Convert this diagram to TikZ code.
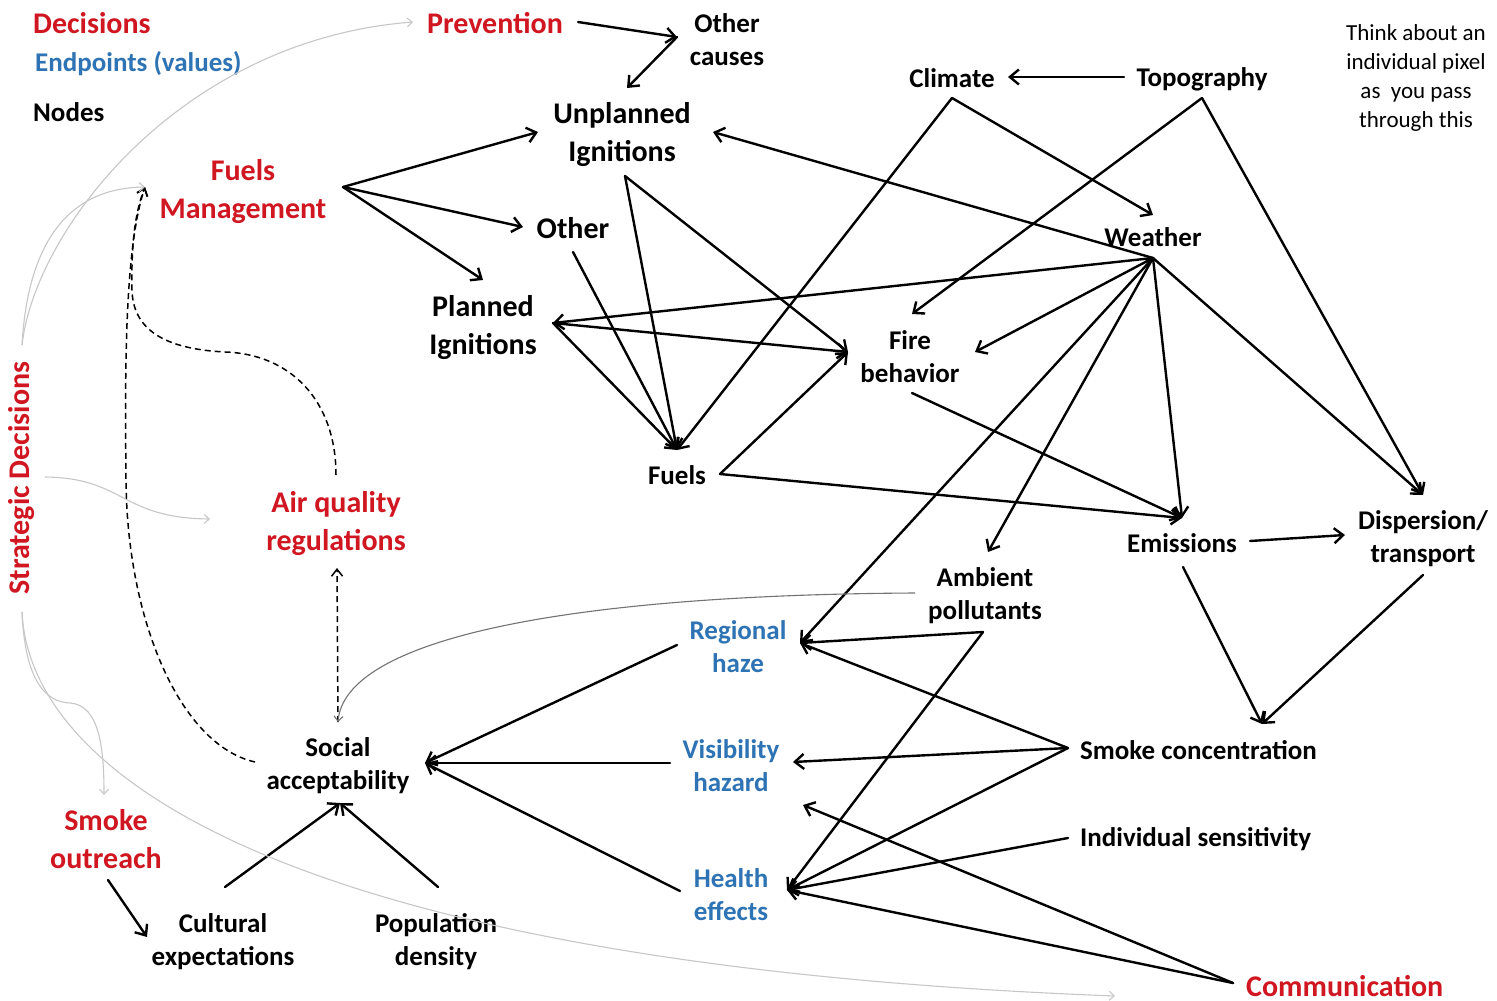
\documentclass[tikz,border=0pt]{standalone}
\usepackage{fontspec}
\setmainfont{Carlito}
\usetikzlibrary{arrows.meta}
\definecolor{decred}{RGB}{208,22,32}
\definecolor{endblue}{RGB}{46,116,181}
\begin{document}
\begin{tikzpicture}[x=1pt,y=-1pt,
  every node/.style={inner sep=0pt, align=center, font=\bfseries\fontsize{27}{33}\selectfont},
  big/.style={font=\bfseries\fontsize{30}{38}\selectfont},
  dec/.style={big, text=decred},
  endp/.style={text=endblue},
  conn/.style={line width=2.4pt, line cap=round, -{Straight Barb[length=9pt,width=15pt]}},
  faintconn/.style={draw=black!22, line width=1.1pt, -{Straight Barb[length=5pt,width=9pt]}},
  darkconn/.style={draw=black!55, line width=1.1pt, -{Straight Barb[length=5pt,width=9pt]}},
  dashconn/.style={line width=1.5pt, dash pattern=on 6pt off 4pt, -{Straight Barb[length=7pt,width=11pt]}}
]
\useasboundingbox (0,0) rectangle (1497,1001);
\fill[white] (0,0) rectangle (1497,1001);

% ---------- legend ----------
\node[dec, anchor=west] (legdec) at (33,23) {Decisions};
\node[endp, anchor=west] (legend) at (35,64) {Endpoints (values)};
\node[anchor=west] (legnode) at (33,112) {Nodes};
\node[font=\fontsize{23}{29}\selectfont] (think) at (1416,78) {Think about an\\individual pixel\\as~ you pass\\through this};

% ---------- nodes ----------
\node[dec] (prev) at (495,23) {Prevention};
\node (oc) at (727,40) {Other\\causes};
\node[big] (unpl) at (622,135) {Unplanned\\Ignitions};
\node (clim) at (952,78) {Climate};
\node (topo) at (1202,79) {Topography};
\node[dec] (fm) at (243,192) {Fuels\\Management};
\node[big] (other) at (573,228) {Other};
\node (wea) at (1153,237) {Weather};
\node[big] (plan) at (483,328) {Planned\\Ignitions};
\node (fire) at (910,357) {Fire\\behavior};
\node (fuels) at (677,475) {Fuels};
\node[dec] (aq) at (336,524) {Air quality\\regulations};
\node (emi) at (1182,543) {Emissions};
\node (disp) at (1423,539) {Dispersion/\\transport};
\node (amb) at (985,596) {Ambient\\pollutants};
\node[endp] (rh) at (738,647) {Regional\\haze};
\node (soc) at (338,766) {Social\\acceptability};
\node[endp] (vis) at (731,766) {Visibility\\hazard};
\node[anchor=west] (smk) at (1080,750) {Smoke concentration};
\node[anchor=west] (ind) at (1080,839) {Individual sensitivity};
\node[endp] (hlth) at (731,895) {Health\\effects};
\node[dec] (so) at (106,839) {Smoke\\outreach};
\node (cul) at (223,942) {Cultural\\expectations};
\node (pop) at (436,942) {Population\\density};
\node[dec, anchor=west] (comm) at (1246,986) {Communication};
\node[dec, rotate=90] (sd) at (22,478) {Strategic Decisions};

% ---------- connector end points ----------
\coordinate (prevR) at (578,22);
\coordinate (ocL) at (677,37);
\coordinate (unplT) at (627,88);
\coordinate (unplL) at (538,132);
\coordinate (unplR) at (713,132);
\coordinate (unplB) at (625,176);
\coordinate (fmR) at (343,187);
\coordinate (fmTL) at (145,187);
\coordinate (otherL) at (523,227);
\coordinate (otherB) at (573,252);
\coordinate (planT) at (483,280);
\coordinate (planR) at (553,323);
\coordinate (fuelsT) at (677,450);
\coordinate (fuelsR) at (720,474);
\coordinate (fireL) at (848,352);
\coordinate (fireT) at (912,314);
\coordinate (fireR) at (975,352);
\coordinate (fireB) at (912,393);
\coordinate (climR) at (1008,77);
\coordinate (climB) at (952,98);
\coordinate (topoL) at (1124,77);
\coordinate (topoB) at (1202,98);
\coordinate (weaT) at (1153,215);
\coordinate (weaB) at (1153,258);
\coordinate (emiT) at (1182,518);
\coordinate (emiR) at (1250,541);
\coordinate (emiB) at (1183,567);
\coordinate (dispT) at (1423,495);
\coordinate (dispL) at (1345,535);
\coordinate (dispB) at (1423,575);
\coordinate (ambT) at (988,552);
\coordinate (ambB) at (983,632);
\coordinate (ambL) at (915,593);
\coordinate (rhR) at (800,643);
\coordinate (rhL) at (677,645);
\coordinate (smkT) at (1262,724);
\coordinate (smkL) at (1068,748);
\coordinate (visR) at (793,762);
\coordinate (visL) at (670,763);
\coordinate (visBR) at (803,805);
\coordinate (indL) at (1068,838);
\coordinate (hlthR) at (787,890);
\coordinate (hlthL) at (680,891);
\coordinate (commL) at (1233,983);
\coordinate (socR) at (425,763);
\coordinate (socB) at (340,803);
\coordinate (socT) at (338,722);
\coordinate (socL) at (255,762);
\coordinate (culT) at (225,887);
\coordinate (culL) at (147,937);
\coordinate (popT) at (438,887);
\coordinate (soB) at (108,880);
\coordinate (soT) at (104,795);
\coordinate (aqT) at (336,475);
\coordinate (aqB) at (337,568);
\coordinate (aqL) at (210,519);
\coordinate (sdT) at (22,345);
\coordinate (sdM) at (45,477);
\coordinate (sdB) at (22,612);
\coordinate (prevL) at (413,22);
\coordinate (commLL) at (1115,996);

% ---------- black connectors ----------
\draw[conn] (prevR) -- (ocL);
\draw[conn] (ocL) -- (unplT);
\draw[conn] (fmR) -- (unplL);
\draw[conn] (fmR) -- (otherL);
\draw[conn] (fmR) -- (planT);
\draw[conn] (unplB) -- (fuelsT);
\draw[conn] (unplB) -- (fireL);
\draw[conn] (otherB) -- (fuelsT);
\draw[conn] (planR) -- (fuelsT);
\draw[conn] (planR) -- (fireL);
\draw[conn] (weaB) -- (planR);
\draw[conn] (climB) -- (fuelsT);
\draw[conn] (climB) -- (weaT);
\draw[conn] (topoL) -- (climR);
\draw[conn] (topoB) -- (fireT);
\draw[conn] (topoB) -- (dispT);
\draw[conn] (weaB) -- (unplR);
\draw[conn] (weaB) -- (fireR);
\draw[conn] (weaB) -- (emiT);
\draw[conn] (weaB) -- (dispT);
\draw[conn] (weaB) -- (ambT);
\draw[conn] (weaB) -- (rhR);
\draw[conn] (fireB) -- (emiT);
\draw[conn] (fuelsR) -- (fireL);
\draw[conn] (fuelsR) -- (emiT);
\draw[conn] (emiR) -- (dispL);
\draw[conn] (emiB) -- (smkT);
\draw[conn] (dispB) -- (smkT);
\draw[conn] (ambB) -- (rhR);
\draw[conn] (ambB) -- (hlthR);
\draw[conn] (smkL) -- (rhR);
\draw[conn] (smkL) -- (visR);
\draw[conn] (smkL) -- (hlthR);
\draw[conn] (indL) -- (hlthR);
\draw[conn] (commL) -- (visBR);
\draw[conn] (commL) -- (hlthR);
\draw[conn] (rhL) -- (socR);
\draw[conn] (visL) -- (socR);
\draw[conn] (hlthL) -- (socR);
\draw[conn] (culT) -- (socB);
\draw[conn] (popT) -- (socB);
\draw[conn] (soB) -- (culL);

% ---------- dashed connectors ----------
\draw[dashconn] (socL) .. controls (180,745) and (127,620) .. (126,480)
  .. controls (125,380) and (124,250) .. (fmTL);
\draw[dashconn] (aqT) .. controls (336,400) and (290,354) .. (225,352)
  .. controls (165,349) and (133,330) .. (132,290)
  .. controls (131,240) and (136,210) .. (fmTL);
\draw[dashconn] (socT) -- (aqB);

% ---------- thin grey connectors ----------
\draw[faintconn] (sdT) .. controls (35,230) and (180,40) .. (prevL);
\draw[faintconn] (sdT) .. controls (28,240) and (70,188) .. (fmTL);
\draw[faintconn] (sdM) .. controls (125,478) and (120,518) .. (aqL);
\draw[faintconn] (sdB) .. controls (25,680) and (45,702) .. (70,703)
  .. controls (100,705) and (104,750) .. (soT);
\draw[faintconn] (sdB) .. controls (30,780) and (300,965) .. (commLL);
\draw[darkconn] (ambL) .. controls (560,595) and (345,640) .. (socT);
\end{tikzpicture}
\end{document}
